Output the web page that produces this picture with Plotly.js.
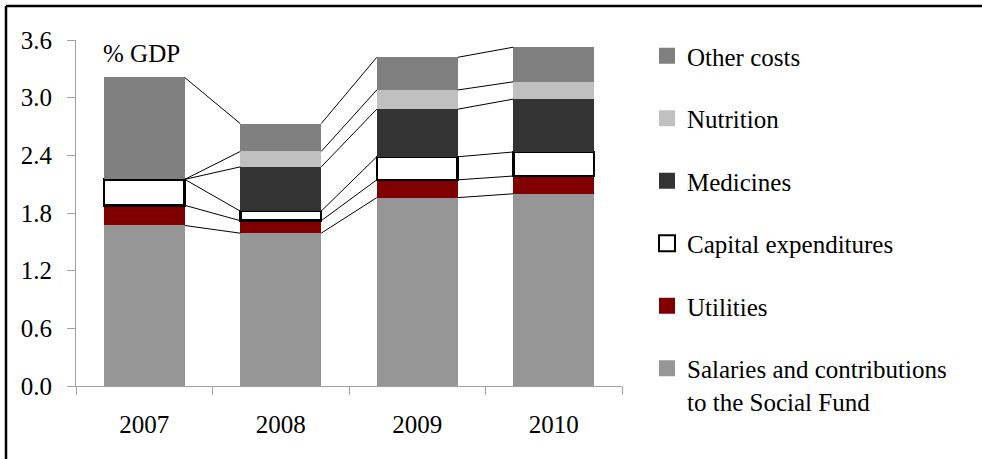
<!DOCTYPE html>
<html>
<head>
<meta charset="utf-8">
<script src="https://cdn.plot.ly/plotly-3.0.1.min.js"></script>
<style>
  html, body { margin: 0; padding: 0; background: #ffffff; }
  #chart { width: 982px; height: 459px; }
</style>
</head>
<body>
<div id="chart"></div>
<script>
// ---- data (% of GDP) ----
const years = ['2007', '2008', '2009', '2010'];
const salaries = [1.67, 1.59, 1.96, 2.00];
const utilities = [0.21, 0.13, 0.185, 0.185];
const capital = [0.27, 0.10, 0.24, 0.25];
const medicines = [0.00, 0.46, 0.495, 0.55];
const nutrition = [0.00, 0.16, 0.20, 0.18];
const other = [1.06, 0.29, 0.34, 0.36];

const seriesNames = ['Salaries and contributions<br>to the Social Fund', 'Utilities',
  'Capital expenditures', 'Medicines', 'Nutrition', 'Other costs'];
const yTicks = [0, 0.6, 1.2, 1.8, 2.4, 3.0, 3.6];
const yTickText = ['0.0', '0.6', '1.2', '1.8', '2.4', '3.0', '3.6'];

// ---- styles ----
const FONT = 'Liberation Serif, Times New Roman, serif';
const series = [salaries, utilities, capital, medicines, nutrition, other];
const fills = ['#969696', '#800000', '#ffffff', '#333333', '#c0c0c0', '#808080'];
const edges = [0, 0, 2.5, 0, 0, 0];
const BARGAP = 0.407;
const barW = 1 - BARGAP;

const traces = [];
series.forEach((vals, i) => {
  traces.push({
    type: 'bar', x: years, y: vals, name: seriesNames[i],
    marker: { color: fills[i], line: { color: '#000000', width: edges[i] } },
    showlegend: false, hoverinfo: 'skip'
  });
});
// legend entries (top to bottom: Other costs ... Salaries)
for (let i = series.length - 1; i >= 0; i--) {
  traces.push({
    type: 'scatter', mode: 'markers', x: [years[0]], y: [null],
    name: seriesNames[i], legendgroup: 'g' + i, showlegend: true,
    marker: { symbol: 'square', size: 16, color: fills[i],
      line: { color: '#000000', width: edges[i] ? 2 : 0 } },
    hoverinfo: 'skip'
  });
}

// connector lines between cumulative tops of adjacent bars
const shapes = [];
const cum = years.map(() => 0);
series.forEach(vals => {
  const tops = vals.map((v, j) => (cum[j] += v));
  for (let j = 0; j < years.length - 1; j++) {
    shapes.push({
      type: 'line', xref: 'x', yref: 'y', layer: 'above',
      x0: j + barW / 2, x1: j + 1 - barW / 2,
      y0: tops[j], y1: tops[j + 1],
      line: { color: '#000000', width: 1 }
    });
  }
});
// outer frame (left and top edges)
const L = 76, R = 360, T = 40, B = 73, W = 982, H = 459;
const pw = W - L - R, ph = H - T - B;
const fx = (px) => (px - L) / pw;
const fy = (py) => (H - B - py) / ph;
shapes.push({ type: 'line', xref: 'paper', yref: 'paper', x0: fx(6), x1: fx(6),
  y0: fy(6), y1: fy(470), line: { color: '#000000', width: 2.5 } });
shapes.push({ type: 'line', xref: 'paper', yref: 'paper', x0: fx(6), x1: fx(990),
  y0: fy(6), y1: fy(6), line: { color: '#000000', width: 2.5 } });

const layout = {
  width: W, height: H,
  margin: { l: L, r: R, t: T, b: B, pad: 0 },
  paper_bgcolor: '#ffffff', plot_bgcolor: '#ffffff',
  font: { family: FONT, size: 25, color: '#000000' },
  barmode: 'stack', bargap: BARGAP,
  showlegend: true,
  legend: {
    x: fx(647), xanchor: 'left', y: fy(33), yanchor: 'top',
    font: { family: FONT, size: 25, color: '#000000' },
    traceorder: 'grouped', tracegroupgap: 27, maxheight: 459, valign: 'top',
    bgcolor: 'rgba(0,0,0,0)', borderwidth: 0
  },
  xaxis: {
    type: 'category', range: [-0.5, 3.5], fixedrange: true,
    showline: true, linecolor: '#a0a0a0', linewidth: 1,
    ticks: 'outside', tickson: 'boundaries', ticklen: 8, tickcolor: '#a0a0a0',
    showgrid: false, zeroline: false, ticklabelstandoff: 16,
    tickfont: { family: FONT, size: 25, color: '#000000' }
  },
  yaxis: {
    range: [0, 3.6], fixedrange: true,
    tickvals: yTicks, ticktext: yTickText,
    showline: true, linecolor: '#a0a0a0', linewidth: 1,
    ticks: 'outside', ticklen: 8, tickcolor: '#a0a0a0',
    showgrid: false, zeroline: false, ticklabelstandoff: 10,
    tickfont: { family: FONT, size: 25, color: '#000000' }
  },
  annotations: [{
    xref: 'paper', yref: 'paper', x: fx(101), y: fy(53),
    xanchor: 'left', yanchor: 'middle', showarrow: false,
    text: '% GDP', font: { family: FONT, size: 25, color: '#000000' }
  }],
  shapes: shapes
};

Plotly.newPlot('chart', traces, layout, { displayModeBar: false, staticPlot: true });
</script>
</body>
</html>
